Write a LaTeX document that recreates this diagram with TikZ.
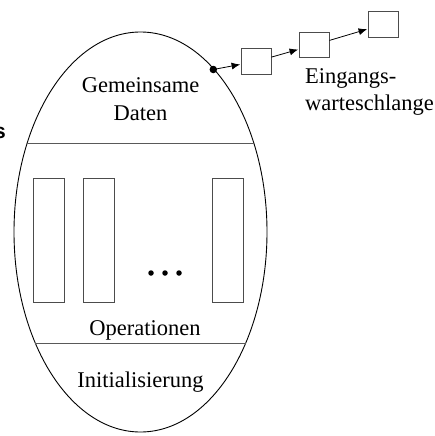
\documentclass[tikz,border=0pt]{standalone}
\usepackage{fontspec}
\setmainfont{Liberation Serif}
\newfontfamily\labelsans{Liberation Sans}
\usetikzlibrary{arrows.meta,shapes.geometric}

\tikzset{
  lbl/.style={font=\fontsize{22.5}{27.5}\selectfont, inner sep=0pt, align=center},
  sep/.style={draw=black!65, line width=0.8pt},
  opbox/.style={draw=black!70, line width=0.8pt, minimum width=31pt, minimum height=124pt, inner sep=0pt},
  qbox/.style={draw=black!70, line width=0.8pt, minimum width=30pt, minimum height=25.5pt, inner sep=0pt},
  qarrow/.style={-{Latex[length=8.5pt,width=7pt]}, line width=0.8pt, shorten >=0.5pt},
  dotmark/.style={circle, fill=black, inner sep=0pt, minimum size=5.5pt}
}

\begin{document}
\begin{tikzpicture}[x=1pt,y=1pt]
  \useasboundingbox (0,0) rectangle (435,-436);

  % monitor outline
  \node[ellipse, draw=black, line width=0.9pt, minimum width=253pt, minimum height=400pt, inner sep=0pt] (mon) at (140.5,-232) {};

  % section dividers
  \coordinate (d1l) at (26.9,-143.5);
  \coordinate (d1r) at (254.1,-143.5);
  \coordinate (d2l) at (35.3,-343.3);
  \coordinate (d2r) at (245.7,-343.3);
  \draw[sep] (d1l) -- (d1r);
  \draw[sep] (d2l) -- (d2r);

  % labels inside the monitor
  \node[lbl] (data) at (140.5,-99) {Gemeinsame\\Daten};
  \node[lbl] (ops) at (145,-330) {Operationen};
  \node[lbl] (init) at (140.5,-382) {Initialisierung};

  % operation procedures
  \node[opbox] (op1) at (48.5,-240) {};
  \node[opbox] (op2) at (98.5,-240) {};
  \node[opbox] (op3) at (227.5,-240) {};
  \node[dotmark] (e1) at (151,-273) {};
  \node[dotmark] (e2) at (165,-273) {};
  \node[dotmark] (e3) at (179,-273) {};

  % entry queue
  \node[circle, fill=black, inner sep=0pt, minimum size=7.5pt] (entry) at (213.3,-69.5) {};
  \node[qbox] (q1) at (256,-61.5) {};
  \node[qbox] (q2) at (314,-45) {};
  \node[qbox] (q3) at (383,-24.5) {};
  \draw[qarrow] (entry.center) -- (q1);
  \draw[qarrow] (q1) -- (q2);
  \draw[qarrow] (q2) -- (q3);

  \node[lbl, align=left, anchor=north west] (queue) at (305,-68) {Eingangs-\\warteschlange};

  % letter at the left edge, partly outside the page
  \node[font=\labelsans\bfseries\fontsize{21}{24}\selectfont, inner sep=0pt, anchor=base east] (cut) at (6,-138.5) {s};
\end{tikzpicture}
\end{document}
